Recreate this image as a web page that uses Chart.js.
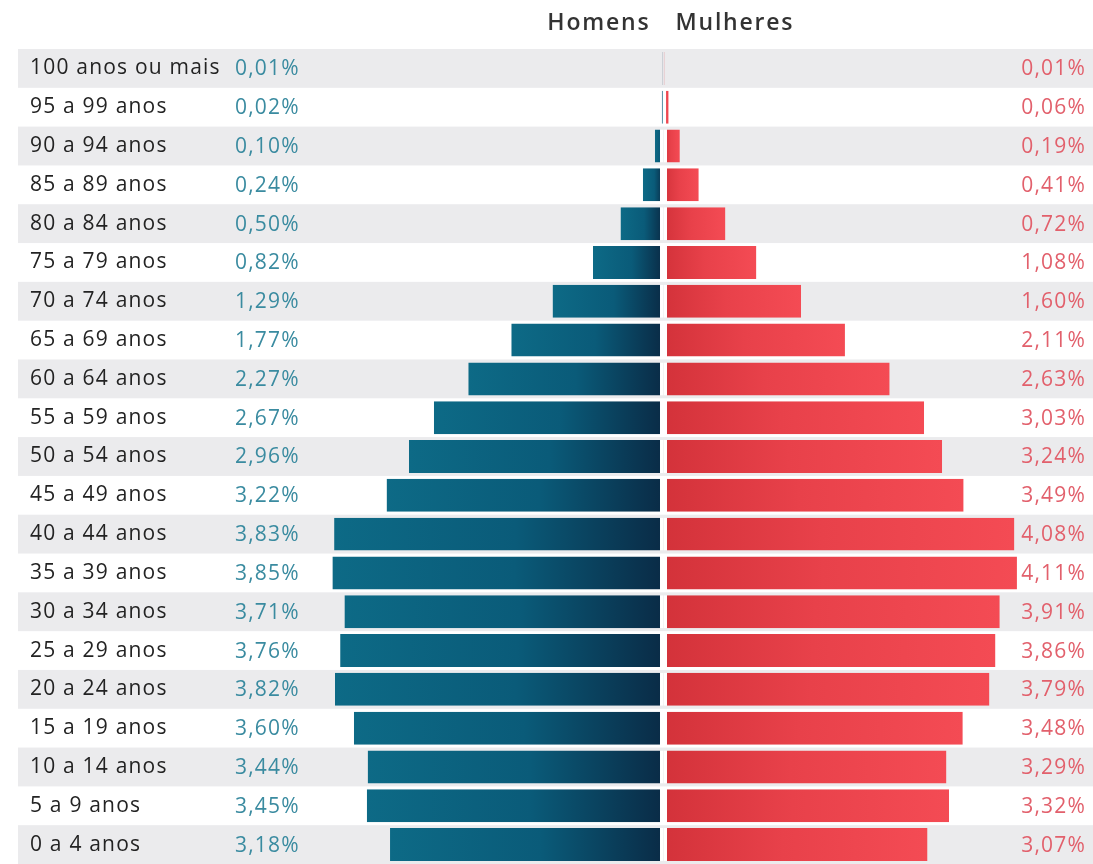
<!DOCTYPE html>
<html lang="pt-BR">
<head>
<meta charset="utf-8">
<title>Pirâmide etária</title>
<script src="https://cdn.jsdelivr.net/npm/chart.js@4.4.1/dist/chart.umd.min.js"></script>
<style>
  html, body { margin: 0; padding: 0; background: #fff; }
  #wrap { position: relative; width: 1093px; height: 864px; }
</style>
</head>
<body>
<div id="wrap"><canvas id="piramide"></canvas></div>
<script>
// faixas etárias, de cima para baixo
const faixas = [
  "100 anos ou mais", "95 a 99 anos", "90 a 94 anos", "85 a 89 anos", "80 a 84 anos",
  "75 a 79 anos", "70 a 74 anos", "65 a 69 anos", "60 a 64 anos", "55 a 59 anos",
  "50 a 54 anos", "45 a 49 anos", "40 a 44 anos", "35 a 39 anos", "30 a 34 anos",
  "25 a 29 anos", "20 a 24 anos", "15 a 19 anos", "10 a 14 anos", "5 a 9 anos", "0 a 4 anos"
];
// % da população
const homens = [0.01, 0.02, 0.10, 0.24, 0.50, 0.82, 1.29, 1.77, 2.27, 2.67, 2.96, 3.22, 3.83, 3.85, 3.71, 3.76, 3.82, 3.60, 3.44, 3.45, 3.18];
const mulheres = [0.01, 0.06, 0.19, 0.41, 0.72, 1.08, 1.60, 2.11, 2.63, 3.03, 3.24, 3.49, 4.08, 4.11, 3.91, 3.86, 3.79, 3.48, 3.29, 3.32, 3.07];

const COR_TEXTO = "#232323";
const COR_HOMEM_TXT = "#3a8ba0";
const COR_MULHER_TXT = "#e2606c";
const COR_FAIXA = "#ebebed";
const FONTE = "'Open Sans', sans-serif";
const ESPACO = "1.2px";

const fmt = v => v.toFixed(2).replace(".", ",") + "%";

// degradê por barra: claro na ponta, escuro junto ao eixo
function degrade(ctx, cores) {
  const chart = ctx.chart;
  const x = chart.scales.x;
  if (!x || ctx.raw === undefined) return cores[1];
  const x0 = x.getPixelForValue(0), x1 = x.getPixelForValue(ctx.raw);
  if (!isFinite(x0) || !isFinite(x1)) return cores[1];
  if (Math.abs(x1 - x0) < 1) return cores[2];
  const g = chart.ctx.createLinearGradient(x1, 0, x0, 0);
  g.addColorStop(0, cores[0]);
  g.addColorStop(0.55, cores[1]);
  g.addColorStop(1, cores[2]);
  return g;
}

const fundoFaixas = {
  id: "fundoFaixas",
  beforeDraw(chart) {
    const { ctx, scales: { y } } = chart;
    const passo = (y.bottom - y.top) / faixas.length;
    ctx.save();
    ctx.fillStyle = COR_FAIXA;
    faixas.forEach((f, i) => {
      if (i % 2) return;
      const yc = y.getPixelForValue(i);
      ctx.fillRect(18, yc - passo / 2, chart.width - 18, passo);
    });
    ctx.restore();
    // espaçamento das letras para os rótulos do eixo
    ctx.letterSpacing = ESPACO;
  }
};

const rotulos = {
  id: "rotulos",
  afterDatasetsDraw(chart) {
    const { ctx, scales: { x, y } } = chart;
    ctx.save();
    ctx.textBaseline = "middle";
    ctx.font = "21px " + FONTE;
    ctx.letterSpacing = ESPACO;
    faixas.forEach((f, i) => {
      const yc = y.getPixelForValue(i);
      ctx.fillStyle = COR_HOMEM_TXT;
      ctx.textAlign = "left";
      ctx.fillText(fmt(homens[i]), 235, yc + 1);
      ctx.fillStyle = COR_MULHER_TXT;
      ctx.textAlign = "right";
      ctx.fillText(fmt(mulheres[i]), chart.width - 7, yc + 1);
    });
    // cabeçalho
    const x0 = x.getPixelForValue(0);
    ctx.font = "600 23px " + FONTE;
    ctx.letterSpacing = "1.8px";
    ctx.fillStyle = "#333";
    ctx.textBaseline = "alphabetic";
    ctx.textAlign = "right";
    ctx.fillText("Homens", x0 - 13, 30);
    ctx.textAlign = "left";
    ctx.fillText("Mulheres", x0 + 12, 30);
    ctx.restore();
  }
};

new Chart(document.getElementById("piramide"), {
  type: "bar",
  data: {
    labels: faixas,
    datasets: [
      {
        label: "Homens",
        data: homens.map(v => -v),
        backgroundColor: c => degrade(c, ["#0d6a86", "#0a5b79", "#0a2b46"]),
        borderColor: "#fff",
        borderWidth: { left: 0, right: 3.5, top: 0, bottom: 0 },
        borderSkipped: false,
        grouped: false
      },
      {
        label: "Mulheres",
        data: mulheres,
        backgroundColor: c => degrade(c, ["#f44b54", "#e8414a", "#d3323a"]),
        borderColor: "#fff",
        borderWidth: { left: 3.5, right: 0, top: 0, bottom: 0 },
        borderSkipped: false,
        grouped: false
      }
    ]
  },
  options: {
    indexAxis: "y",
    responsive: true,
    maintainAspectRatio: false,
    animation: false,
    devicePixelRatio: 1,
    layout: { padding: { top: 49, left: 30, right: 0, bottom: 0 } },
    datasets: { bar: { categoryPercentage: 1, barPercentage: 0.85 } },
    plugins: { legend: { display: false }, tooltip: { enabled: false } },
    scales: {
      x: {
        display: false,
        min: -(663.5 - 300) / 86,
        max: (1093 - 663.5) / 86
      },
      y: {
        grid: { display: false },
        border: { display: false },
        afterFit: s => {
          s.width = 270;
          s.paddingTop = 0;
          s.paddingBottom = 0;
        },
        ticks: {
          crossAlign: "far",
          color: COR_TEXTO,
          font: { family: FONTE, size: 21 },
          padding: 0
        }
      }
    }
  },
  plugins: [fundoFaixas, rotulos]
});
</script>
</body>
</html>
